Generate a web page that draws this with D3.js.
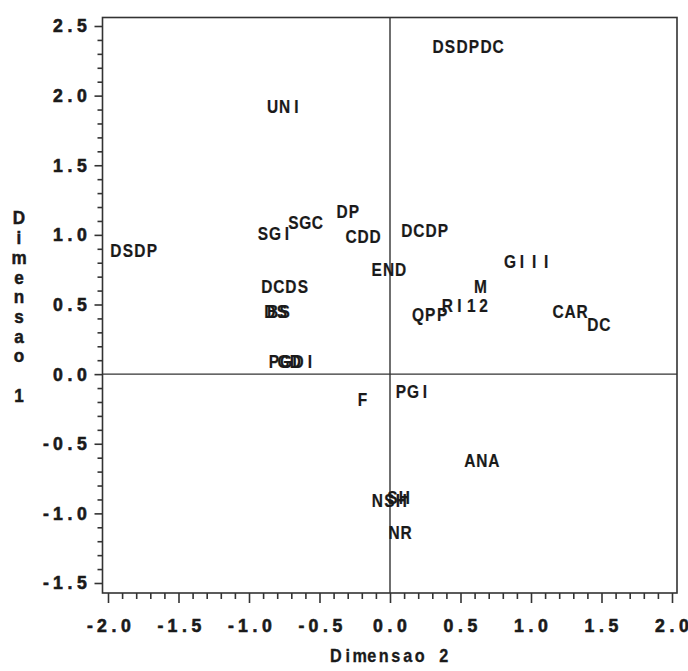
<!DOCTYPE html>
<html>
<head>
<meta charset="utf-8">
<script src="https://cdn.jsdelivr.net/npm/d3@7"></script>
<style>
  body { margin: 0; background: #fff; }
  svg { display: block; }
  text { font-family: "Liberation Sans", Arial, sans-serif; fill: #1a1a1a; }
</style>
</head>
<body>
<div id="chart"></div>
<script>
// correspondence plot, Dimensao 2 (x) vs Dimensao 1 (y)
var labels = ["DSDPDC", "UNI", "DSDP", "SGI", "SGC", "DP", "CDD", "END", "DCDP",
              "GIII", "M", "RI12", "QPP", "CAR", "DC", "DCDS", "DS", "BS",
              "PGDI", "GD", "F", "PGI", "ANA", "NSH", "SH", "NR"];
var dim2 = [0.553, -0.748, -1.816, -0.816, -0.600, -0.298, -0.190, -0.010, 0.248,
            0.979, 0.642, 0.535, 0.284, 1.277, 1.482, -0.745, -0.810, -0.790,
            -0.695, -0.713, -0.195, 0.163, 0.652, -0.004, 0.060, 0.071];
var dim1 = [2.355, 1.925, 0.890, 1.013, 1.090, 1.170, 0.987, 0.750, 1.034,
            0.810, 0.632, 0.490, 0.430, 0.452, 0.355, 0.632, 0.452, 0.452,
            0.093, 0.093, -0.183, -0.126, -0.618, -0.905, -0.883, -1.135];

var xTicks = [-2.0, -1.5, -1.0, -0.5, 0.0, 0.5, 1.0, 1.5, 2.0];
var yTicks = [-1.5, -1.0, -0.5, 0.0, 0.5, 1.0, 1.5, 2.0, 2.5];
var xTitle = "Dimensao 2";
var yTitle = "Dimensao 1";

var svgWidth = 688, svgHeight = 671;
var frame = { left: 102.5, right: 677, top: 17.5, bottom: 593 };
var CELL = 12;      // every character sits in a 12px cell (SAS style)

var svg = d3.select("#chart").append("svg")
  .attr("width", svgWidth)
  .attr("height", svgHeight);

var xScale = d3.scaleLinear().domain([-2, 2]).range([108, 672]);
var yScale = d3.scaleLinear().domain([-1.5, 2.5]).range([583, 26]);

// draws a string one char per cell, cx/cy = anchor point
function cellText(parent, s, cx, cy, anchor, sq, heavy) {
  var n = s.length;
  var start = anchor === "end" ? cx - n * CELL : (anchor === "start" ? cx : cx - n * CELL / 2);
  var xs = [];
  for (var i = 0; i < n; i++) xs.push(((i + 0.5) * CELL) / sq);
  var g = parent.append("g")
    .attr("transform", "translate(" + start + "," + cy + ") scale(" + sq + ",1)");
  var t = g.append("text")
    .attr("x", xs.join(" "))
    .attr("y", 0)
    .attr("dy", "0.36em")
    .attr("text-anchor", "middle")
    .style("font-size", "18px")
    .style("font-weight", "bold")
    .text(s);
  if (heavy) t.attr("stroke", "#1a1a1a").attr("stroke-width", heavy);
  return g;
}

// minor ticks
var xMinor = d3.range(-20, 21).map(d => d / 10).filter(d => xTicks.indexOf(d) < 0);
var yMinor = d3.range(-15, 26).map(d => d / 10).filter(d => yTicks.indexOf(d) < 0);

function styleAxis(g) {
  g.select(".domain").remove();
  g.selectAll("line").attr("stroke", "#333").attr("stroke-width", 1.6);
}

svg.append("g")
  .attr("transform", `translate(${frame.left},0)`)
  .call(d3.axisLeft(yScale).tickValues(yTicks).tickSize(8).tickFormat(""))
  .call(styleAxis);
svg.append("g")
  .attr("transform", `translate(${frame.left},0)`)
  .call(d3.axisLeft(yScale).tickValues(yMinor).tickSize(5).tickFormat(""))
  .call(styleAxis);
svg.append("g")
  .attr("transform", `translate(0,${frame.bottom})`)
  .call(d3.axisBottom(xScale).tickValues(xTicks).tickSize(10).tickFormat(""))
  .call(styleAxis);
svg.append("g")
  .attr("transform", `translate(0,${frame.bottom})`)
  .call(d3.axisBottom(xScale).tickValues(xMinor).tickSize(6).tickFormat(""))
  .call(styleAxis);

// frame
svg.append("rect")
  .attr("x", frame.left).attr("y", frame.top)
  .attr("width", frame.right - frame.left)
  .attr("height", frame.bottom - frame.top)
  .attr("fill", "none")
  .attr("stroke", "#333")
  .attr("stroke-width", 1.6);

// reference lines through 0
svg.append("line")
  .attr("x1", xScale(0)).attr("x2", xScale(0))
  .attr("y1", frame.top).attr("y2", frame.bottom)
  .attr("stroke", "#333").attr("stroke-width", 1.4);
svg.append("line")
  .attr("x1", frame.left).attr("x2", frame.right)
  .attr("y1", yScale(0)).attr("y2", yScale(0))
  .attr("stroke", "#333").attr("stroke-width", 1.4);

// tick labels
var tickG = svg.append("g");
yTicks.forEach(function (v) {
  cellText(tickG, v.toFixed(1), 88, yScale(v), "end", 0.98, 0.6);
});
xTicks.forEach(function (v) {
  cellText(tickG, v.toFixed(1), xScale(v), 626, "middle", 0.98, 0.6);
});

// axis titles
cellText(svg, xTitle, (frame.left + frame.right) / 2, 656, "middle", 0.9, 0.3);
var yt = svg.append("g");
yTitle.split("").forEach(function (ch, i) {
  if (ch === " ") return;
  cellText(yt, ch, 19, 218 + i * 19.7, "middle", 0.95, 0.5);
});

// point labels
var ptG = svg.append("g");
labels.forEach(function (lab, i) {
  cellText(ptG, lab, xScale(dim2[i]), yScale(dim1[i]), "middle", 0.86, 0.2);
});
</script>
</body>
</html>
